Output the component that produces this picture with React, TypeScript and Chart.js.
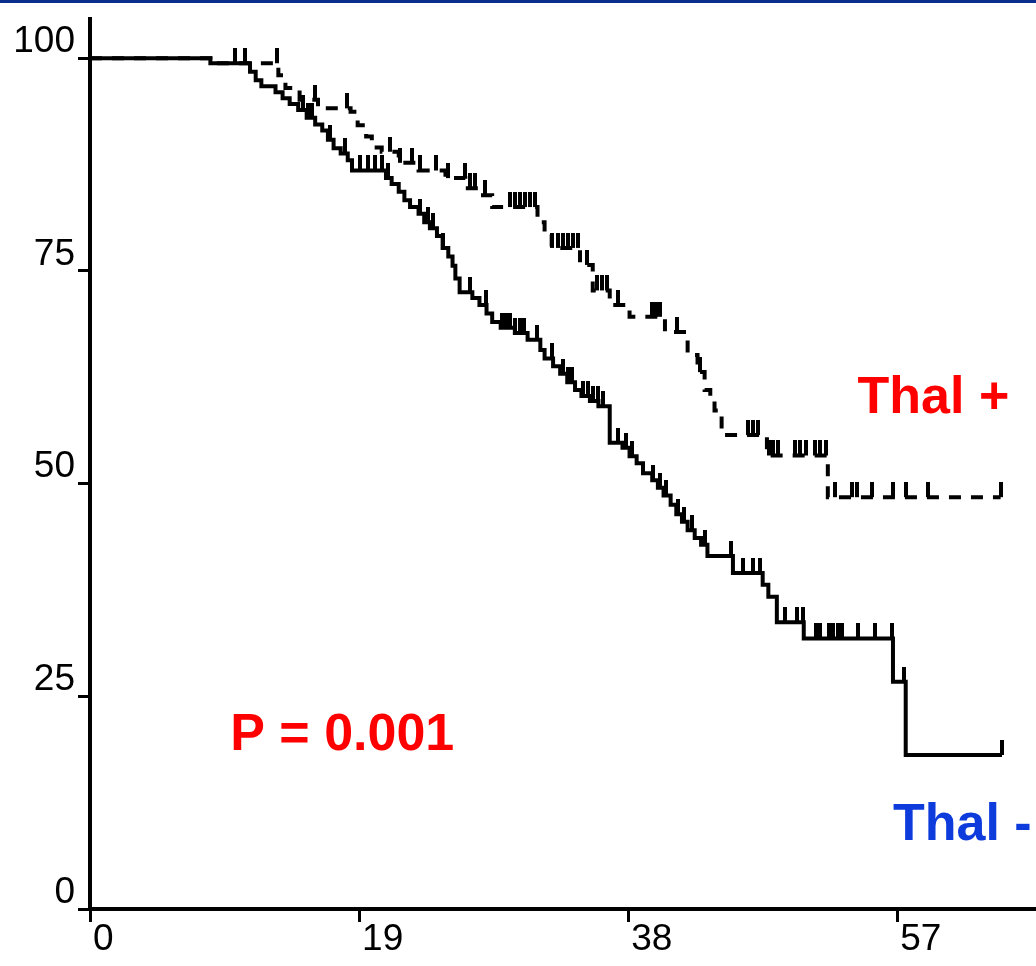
import React, { useEffect, useRef } from "react";
import { Chart, registerables } from "chart.js";

Chart.register(...registerables);

// Kaplan–Meier steps: time (months) at which survival drops, and % surviving after the drop
const thalNegTimes = [
  0, 8.5, 11.3, 11.7, 12.1, 13.1, 13.6, 14.1, 14.7, 15.3, 15.9, 16.4, 16.8, 17.2, 17.7, 18.2, 18.5,
  20.9, 21.3, 21.8, 22.2, 22.6, 23.2, 23.6, 24.0, 24.5, 24.9, 25.3, 25.6, 25.8, 26.1, 27.0, 27.5,
  28.0, 28.4, 29.0, 30.0, 30.9, 31.8, 32.1, 32.7, 33.2, 33.7, 34.25, 34.7, 35.3, 35.9, 36.7, 37.6,
  38.1, 38.6, 39.05, 39.7, 40.1, 40.5, 41.0, 41.4, 41.8, 42.2, 42.7, 43.15, 43.6, 45.4, 47.5, 47.9,
  48.5, 50.4, 56.7, 57.6, 64.4,
];
const thalNegSurvival = [
  100, 99.4, 98.4, 97.4, 96.7, 96.0, 95.3, 94.6, 93.9, 93.0, 92.2, 91.5, 90.4, 89.4, 88.8, 88.0, 86.8,
  85.9, 85.2, 84.3, 83.3, 82.5, 81.7, 80.7, 80.0, 79.1, 77.7, 76.7, 75.6, 74.1, 72.5, 71.8, 71.0,
  70.0, 69.0, 68.3, 67.7, 66.9, 65.7, 64.7, 63.8, 62.9, 61.9, 61.0, 60.3, 59.7, 59.1, 54.8, 54.2,
  53.2, 52.4, 51.2, 50.4, 49.5, 48.6, 47.5, 46.4, 45.5, 44.5, 43.6, 42.8, 41.5, 39.5, 38.1, 36.7,
  33.7, 31.8, 26.7, 18.1, 18.1,
];

const thalPosTimes = [
  0, 8.5, 13.3, 13.8, 14.8, 16.1, 18.4, 18.9, 19.5, 19.9, 20.6, 21.8, 23.2, 25.1, 26.5, 27.4, 28.4,
  31.6, 32.1, 32.6, 34.6, 35.5, 36.7, 38.1, 40.6, 42.2, 42.9, 43.4, 43.8, 44.1, 44.6, 47.8, 52.1, 64.3,
];
const thalPosSurvival = [
  100, 99.4, 98.0, 96.5, 95.1, 94.1, 93.7, 92.1, 90.8, 89.5, 89.0, 87.7, 86.8, 85.9, 84.7, 83.9, 82.5,
  80.7, 79.6, 77.7, 75.7, 72.7, 71.0, 69.6, 67.8, 65.1, 63.1, 61.0, 60.0, 58.6, 55.7, 53.3, 48.4, 48.4,
];

// Censored observations (months)
const thalNegCensored = [
  10.24, 10.95, 15.04, 15.4, 15.68, 16.95, 18.01, 19.07, 19.63, 20.13, 20.62, 21.05, 23.31, 23.87,
  24.22, 24.93, 26.84, 27.97, 29.1, 29.38, 29.66, 30.01, 30.37, 30.65, 31.57, 32.63, 33.4, 33.76,
  34.04, 34.82, 35.17, 35.52, 35.88, 36.23, 37.29, 37.85, 38.28, 39.76, 40.25, 40.68, 41.53, 41.95,
  42.51, 43.43, 45.27, 46.12, 46.82, 47.32, 49.08, 49.93, 50.35, 51.27, 51.55, 52.19, 52.47, 52.82,
  53.11, 54.24, 55.44, 56.64, 57.49, 64.4,
];
const thalPosCensored = [
  13.21, 15.89, 18.15, 21.19, 21.89, 22.74, 23.31, 24.44, 25.28, 26.48, 26.84, 27.19, 27.9, 29.66,
  30.01, 30.37, 30.72, 31.07, 31.43, 32.63, 33.05, 33.4, 33.76, 34.11, 34.46, 35.1, 35.81, 36.16,
  36.51, 37.29, 39.69, 39.97, 40.25, 41.46, 43.08, 46.47, 46.82, 47.18, 47.95, 48.23, 48.59, 49.79,
  50.14, 50.56, 51.2, 51.55, 51.98, 52.61, 53.81, 54.17, 55.23, 56.71, 57.63, 59.18, 64.3,
];

const xTickValues = [0, 19, 38, 57];
const yTickValues = [0, 25, 50, 75, 100];

const groupLabels = ["Thal +", "Thal -"];
const pValueLabel = "P = 0.001";

const RED = "#ff0000";
const BLUE = "#0d3bdc";

function stepPoints(times: number[], surv: number[]) {
  return times.map((t, i) => ({ x: t, y: surv[i] }));
}

function survivalAt(times: number[], surv: number[], t: number) {
  let s = surv[0];
  for (let i = 0; i < times.length; i++) if (times[i] <= t) s = surv[i];
  return s;
}

function censorPoints(censored: number[], times: number[], surv: number[]) {
  return censored.map((t) => ({ x: t, y: survivalAt(times, surv, t) }));
}

// Upward tick used as the censoring mark (bottom half transparent so it rises from the curve)
function makeCensorMark() {
  const c = document.createElement("canvas");
  c.width = 4;
  c.height = 30;
  const g = c.getContext("2d")!;
  g.fillStyle = "#000";
  g.fillRect(0, 0, 4, 15);
  return c;
}

const annotationPlugin = {
  id: "kmAnnotations",
  afterDraw(chart: any) {
    const { ctx, scales } = chart;
    const items = [
      { text: groupLabels[0], x: 54.2, y: 58.3, color: RED },
      { text: groupLabels[1], x: 56.7, y: 8.1, color: BLUE },
      { text: pValueLabel, x: 9.9, y: 18.7, color: RED },
    ];
    ctx.save();
    ctx.font = 'bold 52px "Liberation Sans", Arial, sans-serif';
    ctx.textAlign = "left";
    ctx.textBaseline = "alphabetic";
    for (const it of items) {
      ctx.fillStyle = it.color;
      ctx.fillText(it.text, scales.x.getPixelForValue(it.x), scales.y.getPixelForValue(it.y));
    }
    ctx.restore();
  },
};

export default function App() {
  const canvasRef = useRef<HTMLCanvasElement | null>(null);

  useEffect(() => {
    if (!canvasRef.current) return;
    const mark = makeCensorMark();
    const tickFont = { family: '"Liberation Sans", Arial, sans-serif', size: 37 };

    const chart = new Chart(canvasRef.current, {
      type: "line",
      data: {
        datasets: [
          {
            label: groupLabels[1],
            data: stepPoints(thalNegTimes, thalNegSurvival),
            stepped: true,
            borderColor: "#000",
            borderWidth: 4,
            pointRadius: 0,
            fill: false,
          },
          {
            label: groupLabels[0],
            data: stepPoints(thalPosTimes, thalPosSurvival),
            stepped: true,
            borderColor: "#000",
            borderWidth: 4,
            borderDash: [12, 10],
            pointRadius: 0,
            fill: false,
          },
          {
            label: groupLabels[1] + " censored",
            data: censorPoints(thalNegCensored, thalNegTimes, thalNegSurvival),
            showLine: false,
            pointStyle: mark,
            pointRadius: 7,
          },
          {
            label: groupLabels[0] + " censored",
            data: censorPoints(thalPosCensored, thalPosTimes, thalPosSurvival),
            showLine: false,
            pointStyle: mark,
            pointRadius: 7,
          },
        ],
      },
      options: {
        animation: false,
        responsive: false,
        events: [],
        layout: { autoPadding: false, padding: { top: 19, left: 0, right: 0, bottom: 0 } },
        plugins: { legend: { display: false }, tooltip: { enabled: false } },
        scales: {
          x: {
            type: "linear",
            min: 0,
            max: 66.8,
            border: { display: true, color: "#000", width: 4 },
            grid: { drawOnChartArea: false, drawTicks: true, tickLength: 13, tickWidth: 3, tickColor: "#000" },
            ticks: {
              color: "#000",
              font: tickFont,
              align: "start",
              labelOffset: 3,
              padding: -4,
              maxRotation: 0,
              autoSkip: false,
            },
            afterBuildTicks: (scale: any) => {
              scale.ticks = xTickValues.map((v) => ({ value: v }));
            },
            afterFit: (scale: any) => {
              scale.height = 57;
              scale.paddingLeft = 0;
              scale.paddingRight = 0;
              scale.paddingTop = 0;
              scale.paddingBottom = 0;
            },
          },
          y: {
            type: "linear",
            min: 0,
            max: 104.6,
            border: { display: true, color: "#000", width: 4 },
            grid: { drawOnChartArea: false, drawTicks: true, tickLength: 12, tickWidth: 3, tickColor: "#000" },
            ticks: {
              color: "#000",
              font: tickFont,
              padding: 3,
              labelOffset: -16.5,
              autoSkip: false,
            },
            afterBuildTicks: (scale: any) => {
              scale.ticks = yTickValues.map((v) => ({ value: v }));
            },
            afterFit: (scale: any) => {
              scale.width = 90;
              scale.paddingLeft = 0;
              scale.paddingRight = 0;
              scale.paddingTop = 0;
              scale.paddingBottom = 0;
            },
          },
        },
      },
      plugins: [annotationPlugin],
    } as any);

    return () => chart.destroy();
  }, []);

  return (
    <div style={{ position: "fixed", left: 0, top: 0, width: 1036, height: 966, background: "#fff", overflow: "hidden" }}>
      <canvas ref={canvasRef} width={1036} height={966} style={{ display: "block" }} />
      <div style={{ position: "absolute", left: 0, top: 0, width: 1036, height: 3, background: "#0b2d8e" }} />
    </div>
  );
}
